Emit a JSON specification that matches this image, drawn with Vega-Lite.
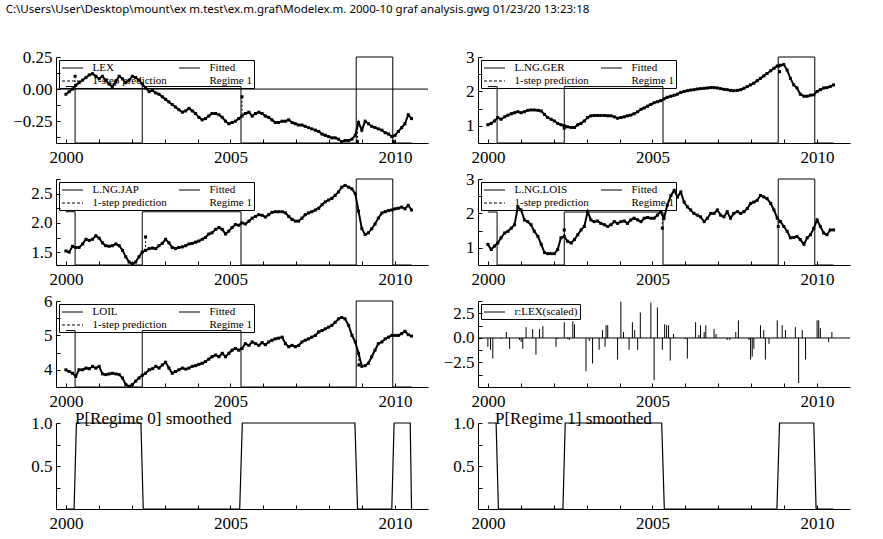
{
"$schema":"https://vega.github.io/schema/vega-lite/v6.json",
"background":"white",
"padding":{"left":5,"top":3,"right":5,"bottom":5},
"title":{"text":"C:\\Users\\User\\Desktop\\mount\\ex m.test\\ex.m.graf\\Modelex.m. 2000-10 graf analysis.gwg  01/23/20 13:23:18","anchor":"start","frame":"bounds","font":"Noto Sans","fontSize":11.5,"fontWeight":"normal","color":"black","offset":33,"dx":-7},
"datasets":{
"obs":[
{"t":2000.0,"LEX":-0.04,"GER":1.03,"JAP":1.52,"LOIS":1.10,"LOIL":4.00},
{"t":2000.1,"LEX":-0.02,"GER":1.07,"JAP":1.50,"LOIS":0.95,"LOIL":3.95},
{"t":2000.2,"LEX":0.00,"GER":1.14,"JAP":1.60,"LOIS":1.05,"LOIL":3.90},
{"t":2000.3,"LEX":0.03,"GER":1.24,"JAP":1.58,"LOIS":1.14,"LOIL":3.81},
{"t":2000.4,"LEX":0.05,"GER":1.19,"JAP":1.58,"LOIS":1.29,"LOIL":4.00},
{"t":2000.51,"LEX":0.07,"GER":1.26,"JAP":1.64,"LOIS":1.43,"LOIL":4.00},
{"t":2000.61,"LEX":0.09,"GER":1.31,"JAP":1.72,"LOIS":1.48,"LOIL":4.05},
{"t":2000.71,"LEX":0.11,"GER":1.35,"JAP":1.70,"LOIS":1.57,"LOIL":4.03},
{"t":2000.81,"LEX":0.12,"GER":1.38,"JAP":1.72,"LOIS":1.67,"LOIL":4.10},
{"t":2000.91,"LEX":0.10,"GER":1.41,"JAP":1.78,"LOIS":2.19,"LOIL":4.05},
{"t":2001.01,"LEX":0.08,"GER":1.38,"JAP":1.74,"LOIS":2.10,"LOIL":4.10},
{"t":2001.11,"LEX":0.10,"GER":1.41,"JAP":1.66,"LOIS":1.81,"LOIL":3.88},
{"t":2001.21,"LEX":0.07,"GER":1.45,"JAP":1.61,"LOIS":1.76,"LOIL":3.86},
{"t":2001.31,"LEX":0.04,"GER":1.46,"JAP":1.60,"LOIS":1.67,"LOIL":3.88},
{"t":2001.41,"LEX":0.02,"GER":1.46,"JAP":1.61,"LOIS":1.48,"LOIL":3.90},
{"t":2001.52,"LEX":0.06,"GER":1.45,"JAP":1.64,"LOIS":1.33,"LOIL":3.88},
{"t":2001.62,"LEX":0.10,"GER":1.43,"JAP":1.61,"LOIS":1.10,"LOIL":3.86},
{"t":2001.72,"LEX":0.08,"GER":1.33,"JAP":1.53,"LOIS":0.86,"LOIL":3.76},
{"t":2001.82,"LEX":0.05,"GER":1.24,"JAP":1.42,"LOIS":0.83,"LOIL":3.57},
{"t":2001.92,"LEX":0.07,"GER":1.19,"JAP":1.33,"LOIS":0.83,"LOIL":3.52},
{"t":2002.02,"LEX":0.10,"GER":1.14,"JAP":1.30,"LOIS":0.83,"LOIL":3.57},
{"t":2002.12,"LEX":0.09,"GER":1.07,"JAP":1.33,"LOIS":0.95,"LOIL":3.67},
{"t":2002.22,"LEX":0.07,"GER":1.03,"JAP":1.42,"LOIS":1.29,"LOIL":3.76},
{"t":2002.32,"LEX":0.04,"GER":1.00,"JAP":1.50,"LOIS":1.33,"LOIL":3.84},
{"t":2002.42,"LEX":0.01,"GER":0.97,"JAP":1.53,"LOIS":1.19,"LOIL":3.90},
{"t":2002.53,"LEX":-0.02,"GER":0.95,"JAP":1.56,"LOIS":1.14,"LOIL":4.00},
{"t":2002.63,"LEX":-0.01,"GER":0.95,"JAP":1.57,"LOIS":1.24,"LOIL":4.03},
{"t":2002.73,"LEX":-0.03,"GER":1.03,"JAP":1.56,"LOIS":1.38,"LOIL":4.10},
{"t":2002.83,"LEX":-0.04,"GER":1.07,"JAP":1.61,"LOIS":1.52,"LOIL":4.05},
{"t":2002.93,"LEX":-0.06,"GER":1.14,"JAP":1.65,"LOIS":1.62,"LOIL":4.14},
{"t":2003.03,"LEX":-0.08,"GER":1.24,"JAP":1.72,"LOIS":2.05,"LOIL":4.22},
{"t":2003.13,"LEX":-0.10,"GER":1.29,"JAP":1.66,"LOIS":1.81,"LOIL":4.05},
{"t":2003.23,"LEX":-0.12,"GER":1.30,"JAP":1.58,"LOIS":1.76,"LOIL":3.90},
{"t":2003.33,"LEX":-0.14,"GER":1.30,"JAP":1.56,"LOIS":1.78,"LOIL":3.95},
{"t":2003.43,"LEX":-0.16,"GER":1.30,"JAP":1.58,"LOIS":1.71,"LOIL":4.00},
{"t":2003.54,"LEX":-0.18,"GER":1.30,"JAP":1.59,"LOIS":1.67,"LOIL":4.05},
{"t":2003.64,"LEX":-0.17,"GER":1.29,"JAP":1.61,"LOIS":1.62,"LOIL":4.02},
{"t":2003.74,"LEX":-0.15,"GER":1.29,"JAP":1.64,"LOIS":1.67,"LOIL":4.05},
{"t":2003.84,"LEX":-0.17,"GER":1.26,"JAP":1.65,"LOIS":1.76,"LOIL":4.10},
{"t":2003.94,"LEX":-0.19,"GER":1.22,"JAP":1.67,"LOIS":1.71,"LOIL":4.12},
{"t":2004.04,"LEX":-0.22,"GER":1.24,"JAP":1.69,"LOIS":1.76,"LOIL":4.16},
{"t":2004.14,"LEX":-0.24,"GER":1.26,"JAP":1.72,"LOIS":1.78,"LOIL":4.19},
{"t":2004.24,"LEX":-0.23,"GER":1.29,"JAP":1.75,"LOIS":1.71,"LOIL":4.24},
{"t":2004.34,"LEX":-0.21,"GER":1.31,"JAP":1.81,"LOIS":1.81,"LOIL":4.31},
{"t":2004.44,"LEX":-0.19,"GER":1.35,"JAP":1.83,"LOIS":1.86,"LOIL":4.38},
{"t":2004.55,"LEX":-0.19,"GER":1.41,"JAP":1.89,"LOIS":1.81,"LOIL":4.43},
{"t":2004.65,"LEX":-0.20,"GER":1.48,"JAP":1.92,"LOIS":1.76,"LOIL":4.38},
{"t":2004.75,"LEX":-0.22,"GER":1.52,"JAP":1.89,"LOIS":1.86,"LOIL":4.48},
{"t":2004.85,"LEX":-0.25,"GER":1.57,"JAP":1.81,"LOIS":1.88,"LOIL":4.38},
{"t":2004.95,"LEX":-0.27,"GER":1.62,"JAP":1.86,"LOIS":1.86,"LOIL":4.48},
{"t":2005.05,"LEX":-0.26,"GER":1.67,"JAP":1.92,"LOIS":1.86,"LOIL":4.57},
{"t":2005.15,"LEX":-0.25,"GER":1.70,"JAP":1.97,"LOIS":1.95,"LOIL":4.62},
{"t":2005.25,"LEX":-0.23,"GER":1.73,"JAP":1.96,"LOIS":2.05,"LOIL":4.57},
{"t":2005.35,"LEX":-0.21,"GER":1.78,"JAP":2.00,"LOIS":1.86,"LOIL":4.62},
{"t":2005.45,"LEX":-0.19,"GER":1.83,"JAP":1.98,"LOIS":2.24,"LOIL":4.76},
{"t":2005.56,"LEX":-0.18,"GER":1.86,"JAP":2.03,"LOIS":2.52,"LOIL":4.71},
{"t":2005.66,"LEX":-0.21,"GER":1.89,"JAP":2.08,"LOIS":2.67,"LOIL":4.81},
{"t":2005.76,"LEX":-0.19,"GER":1.92,"JAP":2.11,"LOIS":2.48,"LOIL":4.76},
{"t":2005.86,"LEX":-0.18,"GER":1.97,"JAP":2.14,"LOIS":2.62,"LOIL":4.71},
{"t":2005.96,"LEX":-0.19,"GER":2.00,"JAP":2.13,"LOIS":2.33,"LOIL":4.79},
{"t":2006.06,"LEX":-0.21,"GER":2.02,"JAP":2.10,"LOIS":2.19,"LOIL":4.73},
{"t":2006.16,"LEX":-0.22,"GER":2.04,"JAP":2.14,"LOIS":2.10,"LOIL":4.81},
{"t":2006.26,"LEX":-0.24,"GER":2.05,"JAP":2.18,"LOIS":2.00,"LOIL":4.86},
{"t":2006.36,"LEX":-0.26,"GER":2.07,"JAP":2.19,"LOIS":1.95,"LOIL":4.90},
{"t":2006.46,"LEX":-0.26,"GER":2.08,"JAP":2.19,"LOIS":1.90,"LOIL":4.92},
{"t":2006.57,"LEX":-0.25,"GER":2.09,"JAP":2.19,"LOIS":1.76,"LOIL":4.95},
{"t":2006.67,"LEX":-0.25,"GER":2.10,"JAP":2.17,"LOIS":1.86,"LOIL":4.76},
{"t":2006.77,"LEX":-0.24,"GER":2.11,"JAP":2.11,"LOIS":2.00,"LOIL":4.67},
{"t":2006.87,"LEX":-0.26,"GER":2.11,"JAP":2.06,"LOIS":2.00,"LOIL":4.71},
{"t":2006.97,"LEX":-0.27,"GER":2.10,"JAP":2.03,"LOIS":2.10,"LOIL":4.67},
{"t":2007.07,"LEX":-0.28,"GER":2.08,"JAP":2.03,"LOIS":1.95,"LOIL":4.71},
{"t":2007.17,"LEX":-0.28,"GER":2.06,"JAP":2.08,"LOIS":1.90,"LOIL":4.81},
{"t":2007.27,"LEX":-0.29,"GER":2.05,"JAP":2.14,"LOIS":2.05,"LOIL":4.86},
{"t":2007.37,"LEX":-0.30,"GER":2.03,"JAP":2.17,"LOIS":1.86,"LOIL":4.90},
{"t":2007.47,"LEX":-0.31,"GER":2.02,"JAP":2.19,"LOIS":2.00,"LOIL":4.95},
{"t":2007.58,"LEX":-0.32,"GER":2.03,"JAP":2.22,"LOIS":2.05,"LOIL":5.00},
{"t":2007.68,"LEX":-0.33,"GER":2.05,"JAP":2.25,"LOIS":2.00,"LOIL":5.10},
{"t":2007.78,"LEX":-0.35,"GER":2.09,"JAP":2.31,"LOIS":2.05,"LOIL":5.14},
{"t":2007.88,"LEX":-0.36,"GER":2.14,"JAP":2.36,"LOIS":2.14,"LOIL":5.19},
{"t":2007.98,"LEX":-0.37,"GER":2.19,"JAP":2.39,"LOIS":2.29,"LOIL":5.24},
{"t":2008.08,"LEX":-0.38,"GER":2.24,"JAP":2.42,"LOIS":2.33,"LOIL":5.29},
{"t":2008.18,"LEX":-0.38,"GER":2.31,"JAP":2.47,"LOIS":2.38,"LOIL":5.38},
{"t":2008.28,"LEX":-0.39,"GER":2.38,"JAP":2.53,"LOIS":2.52,"LOIL":5.48},
{"t":2008.38,"LEX":-0.41,"GER":2.45,"JAP":2.61,"LOIS":2.48,"LOIL":5.52},
{"t":2008.48,"LEX":-0.40,"GER":2.52,"JAP":2.64,"LOIS":2.43,"LOIL":5.48},
{"t":2008.59,"LEX":-0.40,"GER":2.60,"JAP":2.61,"LOIS":2.29,"LOIL":5.29},
{"t":2008.69,"LEX":-0.39,"GER":2.67,"JAP":2.58,"LOIS":2.10,"LOIL":5.00},
{"t":2008.79,"LEX":-0.36,"GER":2.74,"JAP":2.50,"LOIS":1.86,"LOIL":4.81},
{"t":2008.89,"LEX":-0.26,"GER":2.76,"JAP":2.20,"LOIS":1.76,"LOIL":4.48},
{"t":2008.99,"LEX":-0.32,"GER":2.78,"JAP":1.90,"LOIS":1.62,"LOIL":4.10},
{"t":2009.09,"LEX":-0.25,"GER":2.62,"JAP":1.80,"LOIS":1.48,"LOIL":4.12},
{"t":2009.19,"LEX":-0.27,"GER":2.38,"JAP":1.83,"LOIS":1.29,"LOIL":4.19},
{"t":2009.29,"LEX":-0.29,"GER":2.19,"JAP":1.90,"LOIS":1.30,"LOIL":4.38},
{"t":2009.39,"LEX":-0.30,"GER":2.10,"JAP":1.98,"LOIS":1.33,"LOIL":4.57},
{"t":2009.49,"LEX":-0.31,"GER":1.92,"JAP":2.08,"LOIS":1.24,"LOIL":4.76},
{"t":2009.6,"LEX":-0.32,"GER":1.86,"JAP":2.17,"LOIS":1.10,"LOIL":4.81},
{"t":2009.7,"LEX":-0.34,"GER":1.86,"JAP":2.19,"LOIS":1.29,"LOIL":4.90},
{"t":2009.8,"LEX":-0.35,"GER":1.89,"JAP":2.21,"LOIS":1.38,"LOIL":4.95},
{"t":2009.9,"LEX":-0.37,"GER":1.90,"JAP":2.22,"LOIS":1.57,"LOIL":5.00},
{"t":2010.0,"LEX":-0.36,"GER":2.00,"JAP":2.24,"LOIS":1.81,"LOIL":5.00},
{"t":2010.1,"LEX":-0.33,"GER":2.05,"JAP":2.25,"LOIS":1.62,"LOIL":5.00},
{"t":2010.2,"LEX":-0.30,"GER":2.10,"JAP":2.27,"LOIS":1.43,"LOIL":5.05},
{"t":2010.3,"LEX":-0.27,"GER":2.11,"JAP":2.24,"LOIS":1.38,"LOIL":5.12},
{"t":2010.4,"LEX":-0.20,"GER":2.14,"JAP":2.30,"LOIS":1.52,"LOIL":5.02},
{"t":2010.5,"LEX":-0.23,"GER":2.19,"JAP":2.22,"LOIS":1.52,"LOIL":4.98}
],
"pred":[
{"key":"LEX","t":2000.28,"value":0.10,"a":0.03},
{"key":"LEX","t":2005.35,"value":-0.06,"a":-0.21},
{"key":"LEX","t":2008.86,"value":-0.41,"a":-0.28},
{"key":"LEX","t":2009.95,"value":-0.41,"a":-0.36},
{"key":"GER","t":2002.32,"value":0.93,"a":1.0},
{"key":"GER","t":2008.86,"value":2.57,"a":2.75},
{"key":"JAP","t":2002.42,"value":1.76,"a":1.53},
{"key":"LOIS","t":2002.32,"value":1.52,"a":1.33},
{"key":"LOIS","t":2005.3,"value":1.57,"a":2.0},
{"key":"LOIS","t":2008.82,"value":1.62,"a":1.86},
{"key":"LOIL","t":2008.9,"value":4.14,"a":4.48}
],
"reg":[
{"key":"LEX","k":0,"t":2000.0,"value":0.02},{"key":"LEX","k":1,"t":2000.28,"value":0.02},{"key":"LEX","k":2,"t":2000.28,"value":-0.42},{"key":"LEX","k":3,"t":2002.32,"value":-0.42},{"key":"LEX","k":4,"t":2002.32,"value":0.02},{"key":"LEX","k":5,"t":2005.32,"value":0.02},{"key":"LEX","k":6,"t":2005.32,"value":-0.42},{"key":"LEX","k":7,"t":2008.82,"value":-0.42},{"key":"LEX","k":8,"t":2008.82,"value":0.25},{"key":"LEX","k":9,"t":2009.93,"value":0.25},{"key":"LEX","k":10,"t":2009.93,"value":-0.42},{"key":"LEX","k":11,"t":2010.5,"value":-0.42},
{"key":"GER","k":0,"t":2000.0,"value":2.14},{"key":"GER","k":1,"t":2000.28,"value":2.14},{"key":"GER","k":2,"t":2000.28,"value":0.5},{"key":"GER","k":3,"t":2002.32,"value":0.5},{"key":"GER","k":4,"t":2002.32,"value":2.14},{"key":"GER","k":5,"t":2005.32,"value":2.14},{"key":"GER","k":6,"t":2005.32,"value":0.5},{"key":"GER","k":7,"t":2008.82,"value":0.5},{"key":"GER","k":8,"t":2008.82,"value":3.0},{"key":"GER","k":9,"t":2009.93,"value":3.0},{"key":"GER","k":10,"t":2009.93,"value":0.5},{"key":"GER","k":11,"t":2010.5,"value":0.5},
{"key":"JAP","k":0,"t":2000.0,"value":2.19},{"key":"JAP","k":1,"t":2000.28,"value":2.19},{"key":"JAP","k":2,"t":2000.28,"value":1.28},{"key":"JAP","k":3,"t":2002.32,"value":1.28},{"key":"JAP","k":4,"t":2002.32,"value":2.19},{"key":"JAP","k":5,"t":2005.32,"value":2.19},{"key":"JAP","k":6,"t":2005.32,"value":1.28},{"key":"JAP","k":7,"t":2008.82,"value":1.28},{"key":"JAP","k":8,"t":2008.82,"value":2.75},{"key":"JAP","k":9,"t":2009.93,"value":2.75},{"key":"JAP","k":10,"t":2009.93,"value":1.28},{"key":"JAP","k":11,"t":2010.5,"value":1.28},
{"key":"LOIS","k":0,"t":2000.0,"value":2.04},{"key":"LOIS","k":1,"t":2000.28,"value":2.04},{"key":"LOIS","k":2,"t":2000.28,"value":0.5},{"key":"LOIS","k":3,"t":2002.32,"value":0.5},{"key":"LOIS","k":4,"t":2002.32,"value":2.04},{"key":"LOIS","k":5,"t":2005.32,"value":2.04},{"key":"LOIS","k":6,"t":2005.32,"value":0.5},{"key":"LOIS","k":7,"t":2008.82,"value":0.5},{"key":"LOIS","k":8,"t":2008.82,"value":3.0},{"key":"LOIS","k":9,"t":2009.93,"value":3.0},{"key":"LOIS","k":10,"t":2009.93,"value":0.5},{"key":"LOIS","k":11,"t":2010.5,"value":0.5},
{"key":"LOIL","k":0,"t":2000.0,"value":5.14},{"key":"LOIL","k":1,"t":2000.28,"value":5.14},{"key":"LOIL","k":2,"t":2000.28,"value":3.5},{"key":"LOIL","k":3,"t":2002.32,"value":3.5},{"key":"LOIL","k":4,"t":2002.32,"value":5.14},{"key":"LOIL","k":5,"t":2005.32,"value":5.14},{"key":"LOIL","k":6,"t":2005.32,"value":3.5},{"key":"LOIL","k":7,"t":2008.82,"value":3.5},{"key":"LOIL","k":8,"t":2008.82,"value":6.0},{"key":"LOIL","k":9,"t":2009.93,"value":6.0},{"key":"LOIL","k":10,"t":2009.93,"value":3.5},{"key":"LOIL","k":11,"t":2010.5,"value":3.5}
],
"res":[{"t":2000.0,"value":-0.9},{"t":2000.08,"value":-1.2},{"t":2000.15,"value":-2.1},{"t":2000.4,"value":-0.1},{"t":2000.56,"value":0.6},{"t":2000.66,"value":-1.1},{"t":2000.96,"value":-0.2},{"t":2001.01,"value":-0.4},{"t":2001.06,"value":-1.1},{"t":2001.16,"value":1.1},{"t":2001.36,"value":0.9},{"t":2001.46,"value":-1.7},{"t":2001.57,"value":0.9},{"t":2001.67,"value":1.2},{"t":2002.07,"value":-0.9},{"t":2002.12,"value":-0.1},{"t":2002.32,"value":1.6},{"t":2002.42,"value":-0.1},{"t":2002.47,"value":-0.2},{"t":2002.58,"value":1.7},{"t":2002.63,"value":1.4},{"t":2002.98,"value":-3.4},{"t":2003.08,"value":-0.3},{"t":2003.18,"value":-2.6},{"t":2003.38,"value":-1.2},{"t":2003.48,"value":0.8},{"t":2003.56,"value":-0.9},{"t":2003.59,"value":1.3},{"t":2003.64,"value":1.3},{"t":2003.94,"value":-2.2},{"t":2004.04,"value":3.7},{"t":2004.12,"value":0.6},{"t":2004.29,"value":-1.2},{"t":2004.39,"value":1.6},{"t":2004.46,"value":0.8},{"t":2004.55,"value":-1.2},{"t":2004.63,"value":2.6},{"t":2004.95,"value":3.6},{"t":2005.05,"value":-4.3},{"t":2005.15,"value":3.1},{"t":2005.3,"value":-1.2},{"t":2005.37,"value":1.4},{"t":2005.43,"value":1.3},{"t":2005.49,"value":1.3},{"t":2005.54,"value":-2.3},{"t":2005.64,"value":0.4},{"t":2006.01,"value":-0.1},{"t":2006.06,"value":-2.1},{"t":2006.31,"value":1.6},{"t":2006.41,"value":0.3},{"t":2006.46,"value":1.3},{"t":2006.57,"value":0.6},{"t":2006.62,"value":1.3},{"t":2006.87,"value":0.9},{"t":2006.93,"value":0.4},{"t":2007.27,"value":-0.2},{"t":2007.35,"value":-0.2},{"t":2007.53,"value":0.6},{"t":2007.61,"value":1.8},{"t":2007.93,"value":-0.2},{"t":2007.98,"value":-2.2},{"t":2008.03,"value":-1.9},{"t":2008.08,"value":-1.1},{"t":2008.28,"value":1.3},{"t":2008.38,"value":0.8},{"t":2008.43,"value":-2.2},{"t":2008.54,"value":-0.6},{"t":2008.79,"value":1.8},{"t":2008.94,"value":1.3},{"t":2009.04,"value":0.8},{"t":2009.34,"value":1.1},{"t":2009.44,"value":-4.6},{"t":2009.55,"value":0.8},{"t":2009.65,"value":-2.2},{"t":2010.0,"value":1.8},{"t":2010.05,"value":1.8},{"t":2010.1,"value":1.0},{"t":2010.35,"value":-0.4},{"t":2010.45,"value":0.6}],
"prob":[
{"t":2000.0,"p0":0,"p1":1},{"t":2000.25,"p0":0,"p1":1},{"t":2000.32,"p0":1,"p1":0},{"t":2002.28,"p0":1,"p1":0},{"t":2002.35,"p0":0,"p1":1},{"t":2005.28,"p0":0,"p1":1},{"t":2005.36,"p0":1,"p1":0},{"t":2008.78,"p0":1,"p1":0},{"t":2008.86,"p0":0,"p1":1},{"t":2009.9,"p0":0,"p1":1},{"t":2009.97,"p0":1,"p1":0},{"t":2010.46,"p0":1,"p1":0},{"t":2010.5,"p0":0,"p1":0}
]
},
"columns":2,
"spacing":{"row":36,"column":50},
"bounds":"flush",
"resolve":{"scale":{"color":"independent","x":"independent","y":"independent"},"legend":{"color":"independent"}},
"concat":[
{"width":372,"height":86,
 "encoding":{"x":{"field":"t","type":"quantitative","title":null,"scale":{"domain":[1999.7,2011],"nice":false,"zero":false},"axis":{"values":[2000,2001,2002,2003,2004,2005,2006,2007,2008,2009,2010],"format":"d","labelExpr":"datum.value % 5 === 0 ? datum.label : ''"}},"y":{"field":"value","type":"quantitative","title":null,"scale":{"domain":[-0.42,0.25],"nice":false,"zero":false},"axis":{"values":[-0.375,-0.25,-0.125,0,0.125,0.25],"labelExpr":"datum.value % 0.25 === 0 ? format(datum.value,'.2f') : ''"}}},
 "layer":[
 {"data":{"name":"reg"},"transform":[{"filter":"datum.key === 'LEX'"}],"mark":{"type":"line","color":"black","strokeWidth":1},"encoding":{"order":{"field":"k","type":"quantitative"}}},
 {"data":{"values":[{"t":1999.7,"value":0},{"t":2011,"value":0}]},"mark":{"type":"line","color":"black","strokeWidth":1},"encoding":{}},
 {"data":{"name":"obs"},"transform":[{"fold":["LEX"],"as":["key","value"]}],"mark":{"type":"line","strokeWidth":2},"encoding":{"color":{"datum":"LEX","type":"nominal","scale":{"domain":["LEX","1-step prediction","Fitted","Regime 1"],"range":["black","black","black","transparent"]},"legend":{"title":null,"orient":"top-left","offset":3,"columns":2,"symbolType":"M-2,0H2","symbolSize":110,"symbolOffset":5.5,"symbolStrokeWidth":1,"labelFontSize":11,"labelFont":"Liberation Serif","labelLimit":0,"strokeColor":"black","padding":2,"rowPadding":2,"columnPadding":10,"labelOffset":14,"encode":{"symbols":{"update":{"strokeDash":{"signal":"datum.label === '1-step prediction' ? [3,2] : [1,0]"}}}}}}}},
 {"data":{"name":"obs"},"transform":[{"fold":["LEX"],"as":["key","value"]}],"mark":{"type":"point","shape":"square","filled":true,"size":9,"opacity":1},"encoding":{"color":{"datum":"1-step prediction","type":"nominal"}}},
 {"data":{"name":"pred"},"transform":[{"filter":"datum.key === 'LEX'"}],"mark":{"type":"rule","color":"black","strokeDash":[2,2]},"encoding":{"y2":{"field":"a"}}},
 {"data":{"name":"pred"},"transform":[{"filter":"datum.key === 'LEX'"}],"mark":{"type":"point","shape":"square","filled":true,"size":9,"color":"black","opacity":1},"encoding":{}}
]},
{"width":372,"height":86,
 "encoding":{"x":{"field":"t","type":"quantitative","title":null,"scale":{"domain":[1999.7,2011],"nice":false,"zero":false},"axis":{"values":[2000,2001,2002,2003,2004,2005,2006,2007,2008,2009,2010],"format":"d","labelExpr":"datum.value % 5 === 0 ? datum.label : ''"}},"y":{"field":"value","type":"quantitative","title":null,"scale":{"domain":[0.5,3],"nice":false,"zero":false},"axis":{"values":[1,1.5,2,2.5,3],"labelExpr":"datum.value % 1 === 0 ? format(datum.value,'d') : ''"}}},
 "layer":[
 {"data":{"name":"reg"},"transform":[{"filter":"datum.key === 'GER'"}],"mark":{"type":"line","color":"black","strokeWidth":1},"encoding":{"order":{"field":"k","type":"quantitative"}}},
 {"data":{"name":"obs"},"transform":[{"fold":["GER"],"as":["key","value"]}],"mark":{"type":"line","strokeWidth":2},"encoding":{"color":{"datum":"L.NG.GER","type":"nominal","scale":{"domain":["L.NG.GER","1-step prediction","Fitted","Regime 1"],"range":["black","black","black","transparent"]},"legend":{"title":null,"orient":"top-left","offset":3,"columns":2,"symbolType":"M-2,0H2","symbolSize":110,"symbolOffset":5.5,"symbolStrokeWidth":1,"labelFontSize":11,"labelFont":"Liberation Serif","labelLimit":0,"strokeColor":"black","padding":2,"rowPadding":2,"columnPadding":10,"labelOffset":14,"encode":{"symbols":{"update":{"strokeDash":{"signal":"datum.label === '1-step prediction' ? [3,2] : [1,0]"}}}}}}}},
 {"data":{"name":"obs"},"transform":[{"fold":["GER"],"as":["key","value"]}],"mark":{"type":"point","shape":"square","filled":true,"size":9,"opacity":1},"encoding":{"color":{"datum":"1-step prediction","type":"nominal"}}},
 {"data":{"name":"pred"},"transform":[{"filter":"datum.key === 'GER'"}],"mark":{"type":"rule","color":"black","strokeDash":[2,2]},"encoding":{"y2":{"field":"a"}}},
 {"data":{"name":"pred"},"transform":[{"filter":"datum.key === 'GER'"}],"mark":{"type":"point","shape":"square","filled":true,"size":9,"color":"black","opacity":1},"encoding":{}}
]},
{"width":372,"height":86,
 "encoding":{"x":{"field":"t","type":"quantitative","title":null,"scale":{"domain":[1999.7,2011],"nice":false,"zero":false},"axis":{"values":[2000,2001,2002,2003,2004,2005,2006,2007,2008,2009,2010],"format":"d","labelExpr":"datum.value % 5 === 0 ? datum.label : ''"}},"y":{"field":"value","type":"quantitative","title":null,"scale":{"domain":[1.28,2.75],"nice":false,"zero":false},"axis":{"values":[1.5,1.75,2,2.25,2.5,2.75],"labelExpr":"datum.value % 0.5 === 0 ? format(datum.value,'.1f') : ''"}}},
 "layer":[
 {"data":{"name":"reg"},"transform":[{"filter":"datum.key === 'JAP'"}],"mark":{"type":"line","color":"black","strokeWidth":1},"encoding":{"order":{"field":"k","type":"quantitative"}}},
 {"data":{"name":"obs"},"transform":[{"fold":["JAP"],"as":["key","value"]}],"mark":{"type":"line","strokeWidth":2},"encoding":{"color":{"datum":"L.NG.JAP","type":"nominal","scale":{"domain":["L.NG.JAP","1-step prediction","Fitted","Regime 1"],"range":["black","black","black","transparent"]},"legend":{"title":null,"orient":"top-left","offset":3,"columns":2,"symbolType":"M-2,0H2","symbolSize":110,"symbolOffset":5.5,"symbolStrokeWidth":1,"labelFontSize":11,"labelFont":"Liberation Serif","labelLimit":0,"strokeColor":"black","padding":2,"rowPadding":2,"columnPadding":10,"labelOffset":14,"encode":{"symbols":{"update":{"strokeDash":{"signal":"datum.label === '1-step prediction' ? [3,2] : [1,0]"}}}}}}}},
 {"data":{"name":"obs"},"transform":[{"fold":["JAP"],"as":["key","value"]}],"mark":{"type":"point","shape":"square","filled":true,"size":9,"opacity":1},"encoding":{"color":{"datum":"1-step prediction","type":"nominal"}}},
 {"data":{"name":"pred"},"transform":[{"filter":"datum.key === 'JAP'"}],"mark":{"type":"rule","color":"black","strokeDash":[2,2]},"encoding":{"y2":{"field":"a"}}},
 {"data":{"name":"pred"},"transform":[{"filter":"datum.key === 'JAP'"}],"mark":{"type":"point","shape":"square","filled":true,"size":9,"color":"black","opacity":1},"encoding":{}}
]},
{"width":372,"height":86,
 "encoding":{"x":{"field":"t","type":"quantitative","title":null,"scale":{"domain":[1999.7,2011],"nice":false,"zero":false},"axis":{"values":[2000,2001,2002,2003,2004,2005,2006,2007,2008,2009,2010],"format":"d","labelExpr":"datum.value % 5 === 0 ? datum.label : ''"}},"y":{"field":"value","type":"quantitative","title":null,"scale":{"domain":[0.5,3],"nice":false,"zero":false},"axis":{"values":[1,1.5,2,2.5,3],"labelExpr":"datum.value % 1 === 0 ? format(datum.value,'d') : ''"}}},
 "layer":[
 {"data":{"name":"reg"},"transform":[{"filter":"datum.key === 'LOIS'"}],"mark":{"type":"line","color":"black","strokeWidth":1},"encoding":{"order":{"field":"k","type":"quantitative"}}},
 {"data":{"name":"obs"},"transform":[{"fold":["LOIS"],"as":["key","value"]}],"mark":{"type":"line","strokeWidth":2},"encoding":{"color":{"datum":"L.NG.LOIS","type":"nominal","scale":{"domain":["L.NG.LOIS","1-step prediction","Fitted","Regime 1"],"range":["black","black","black","transparent"]},"legend":{"title":null,"orient":"top-left","offset":3,"columns":2,"symbolType":"M-2,0H2","symbolSize":110,"symbolOffset":5.5,"symbolStrokeWidth":1,"labelFontSize":11,"labelFont":"Liberation Serif","labelLimit":0,"strokeColor":"black","padding":2,"rowPadding":2,"columnPadding":10,"labelOffset":14,"encode":{"symbols":{"update":{"strokeDash":{"signal":"datum.label === '1-step prediction' ? [3,2] : [1,0]"}}}}}}}},
 {"data":{"name":"obs"},"transform":[{"fold":["LOIS"],"as":["key","value"]}],"mark":{"type":"point","shape":"square","filled":true,"size":9,"opacity":1},"encoding":{"color":{"datum":"1-step prediction","type":"nominal"}}},
 {"data":{"name":"pred"},"transform":[{"filter":"datum.key === 'LOIS'"}],"mark":{"type":"rule","color":"black","strokeDash":[2,2]},"encoding":{"y2":{"field":"a"}}},
 {"data":{"name":"pred"},"transform":[{"filter":"datum.key === 'LOIS'"}],"mark":{"type":"point","shape":"square","filled":true,"size":9,"color":"black","opacity":1},"encoding":{}}
]},
{"width":372,"height":86,
 "encoding":{"x":{"field":"t","type":"quantitative","title":null,"scale":{"domain":[1999.7,2011],"nice":false,"zero":false},"axis":{"values":[2000,2001,2002,2003,2004,2005,2006,2007,2008,2009,2010],"format":"d","labelExpr":"datum.value % 5 === 0 ? datum.label : ''"}},"y":{"field":"value","type":"quantitative","title":null,"scale":{"domain":[3.5,6],"nice":false,"zero":false},"axis":{"values":[4,4.5,5,5.5,6],"labelExpr":"datum.value % 1 === 0 ? format(datum.value,'d') : ''"}}},
 "layer":[
 {"data":{"name":"reg"},"transform":[{"filter":"datum.key === 'LOIL'"}],"mark":{"type":"line","color":"black","strokeWidth":1},"encoding":{"order":{"field":"k","type":"quantitative"}}},
 {"data":{"name":"obs"},"transform":[{"fold":["LOIL"],"as":["key","value"]}],"mark":{"type":"line","strokeWidth":2},"encoding":{"color":{"datum":"LOIL","type":"nominal","scale":{"domain":["LOIL","1-step prediction","Fitted","Regime 1"],"range":["black","black","black","transparent"]},"legend":{"title":null,"orient":"top-left","offset":3,"columns":2,"symbolType":"M-2,0H2","symbolSize":110,"symbolOffset":5.5,"symbolStrokeWidth":1,"labelFontSize":11,"labelFont":"Liberation Serif","labelLimit":0,"strokeColor":"black","padding":2,"rowPadding":2,"columnPadding":10,"labelOffset":14,"encode":{"symbols":{"update":{"strokeDash":{"signal":"datum.label === '1-step prediction' ? [3,2] : [1,0]"}}}}}}}},
 {"data":{"name":"obs"},"transform":[{"fold":["LOIL"],"as":["key","value"]}],"mark":{"type":"point","shape":"square","filled":true,"size":9,"opacity":1},"encoding":{"color":{"datum":"1-step prediction","type":"nominal"}}},
 {"data":{"name":"pred"},"transform":[{"filter":"datum.key === 'LOIL'"}],"mark":{"type":"rule","color":"black","strokeDash":[2,2]},"encoding":{"y2":{"field":"a"}}},
 {"data":{"name":"pred"},"transform":[{"filter":"datum.key === 'LOIL'"}],"mark":{"type":"point","shape":"square","filled":true,"size":9,"color":"black","opacity":1},"encoding":{}}
]},
{"width":372,"height":86,
 "encoding":{"x":{"field":"t","type":"quantitative","title":null,"scale":{"domain":[1999.7,2011],"nice":false,"zero":false},"axis":{"values":[2000,2001,2002,2003,2004,2005,2006,2007,2008,2009,2010],"format":"d","labelExpr":"datum.value % 5 === 0 ? datum.label : ''"}},"y":{"field":"value","type":"quantitative","title":null,"scale":{"domain":[-5,3.77],"nice":false,"zero":false},"axis":{"values":[-3.75,-2.5,-1.25,0,1.25,2.5,3.75],"labelExpr":"datum.value % 2.5 === 0 ? format(datum.value,'.1f') : ''"}}},
 "layer":[
 {"data":{"values":[{"t":1999.7,"value":0},{"t":2011,"value":0}]},"mark":{"type":"line","color":"black","strokeWidth":1},"encoding":{}},
 {"data":{"name":"res"},"mark":{"type":"rule","strokeWidth":1},"encoding":{"y2":{"datum":0},"color":{"datum":"r:LEX(scaled)","type":"nominal","scale":{"domain":["r:LEX(scaled)"],"range":["black"]},"legend":{"title":null,"orient":"top-left","offset":3,"symbolType":"M-2,0H2","symbolSize":110,"symbolOffset":5.5,"symbolStrokeWidth":1,"labelFontSize":11,"labelFont":"Liberation Serif","labelLimit":0,"strokeColor":"black","padding":2,"labelOffset":14}}}}
]},
{"width":372,"height":86,"title":{"text":"P[Regime 0] smoothed","anchor":"start","frame":"group","dx":19,"offset":-14,"fontSize":17,"fontWeight":"normal","font":"Liberation Serif","color":"black"},
 "encoding":{"x":{"field":"t","type":"quantitative","title":null,"scale":{"domain":[1999.7,2011],"nice":false,"zero":false},"axis":{"values":[2000,2001,2002,2003,2004,2005,2006,2007,2008,2009,2010],"format":"d","labelExpr":"datum.value % 5 === 0 ? datum.label : ''"}},"y":{"field":"p0","type":"quantitative","title":null,"scale":{"domain":[0,1],"nice":false,"zero":false},"axis":{"values":[0.25,0.5,0.75,1],"labelExpr":"datum.value % 0.5 === 0 ? format(datum.value,'.1f') : ''"}}},
 "layer":[{"data":{"name":"prob"},"mark":{"type":"line","color":"black","strokeWidth":1.2},"encoding":{}}]
},
{"width":372,"height":86,"title":{"text":"P[Regime 1] smoothed","anchor":"start","frame":"group","dx":17,"offset":-14,"fontSize":17,"fontWeight":"normal","font":"Liberation Serif","color":"black"},
 "encoding":{"x":{"field":"t","type":"quantitative","title":null,"scale":{"domain":[1999.7,2011],"nice":false,"zero":false},"axis":{"values":[2000,2001,2002,2003,2004,2005,2006,2007,2008,2009,2010],"format":"d","labelExpr":"datum.value % 5 === 0 ? datum.label : ''"}},"y":{"field":"p1","type":"quantitative","title":null,"scale":{"domain":[0,1],"nice":false,"zero":false},"axis":{"values":[0.25,0.5,0.75,1],"labelExpr":"datum.value % 0.5 === 0 ? format(datum.value,'.1f') : ''"}}},
 "layer":[{"data":{"name":"prob"},"mark":{"type":"line","color":"black","strokeWidth":1.2},"encoding":{}}]
}
],
"config":{
 "view":{"stroke":null},
 "font":"Liberation Serif",
 "axis":{"grid":false,"domainColor":"black","tickColor":"black","labelColor":"black","labelFont":"Liberation Serif","labelFontSize":17,"tickSize":-4,"labelFlush":false,"labelOverlap":false,"domainWidth":1,"tickWidth":1},
 "axisX":{"labelPadding":10},
 "axisY":{"labelPadding":8},
 "legend":{"labelColor":"black"}
}
}
